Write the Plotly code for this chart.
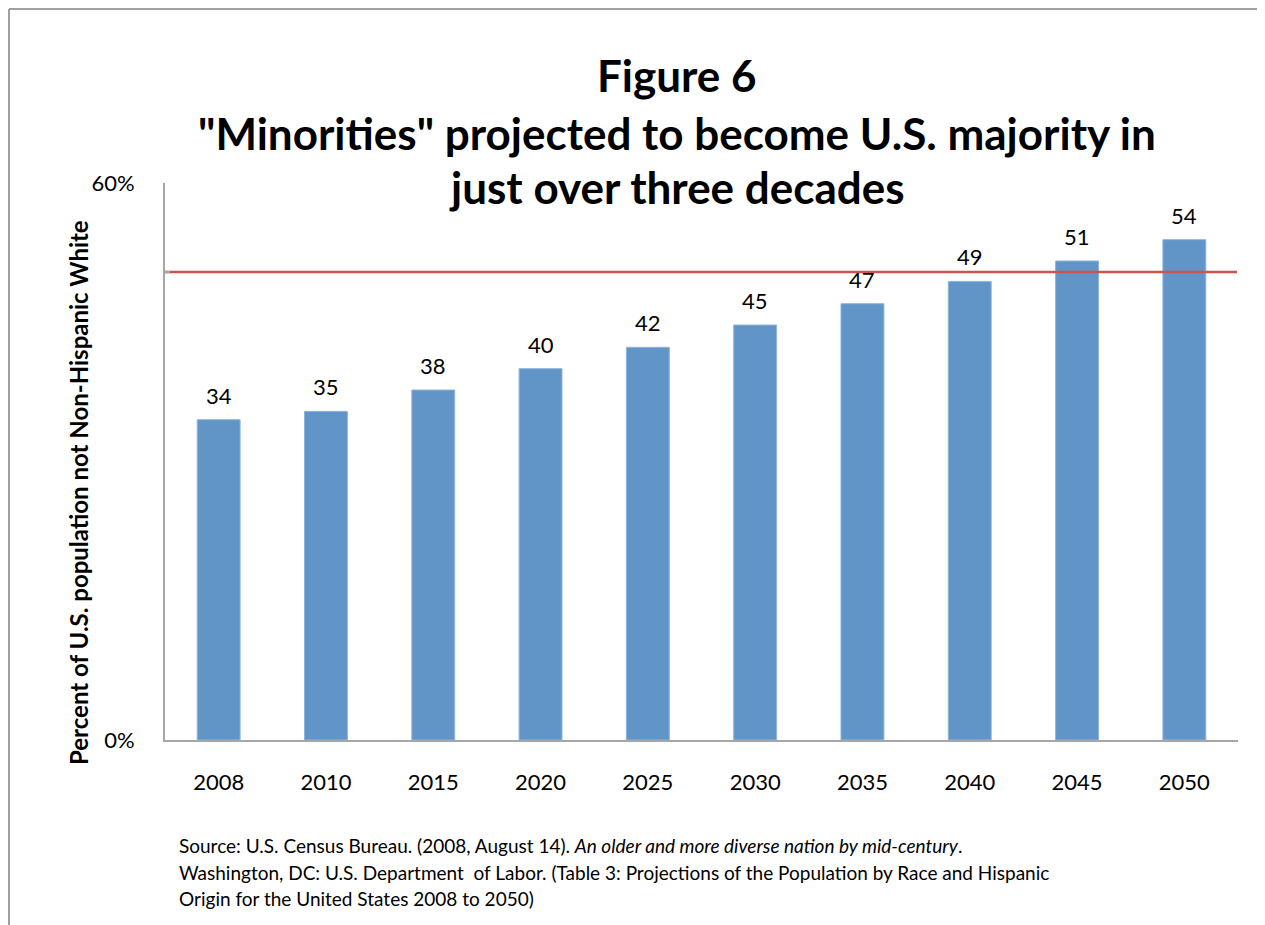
import plotly.graph_objects as go

years = ["2008", "2010", "2015", "2020", "2025", "2030", "2035", "2040", "2045", "2050"]
values = [34.5, 35.4, 37.7, 40.0, 42.3, 44.7, 47.0, 49.4, 51.6, 53.9]
labels = ["34", "35", "38", "40", "42", "45", "47", "49", "51", "54"]
majority_line = 50.4
y_ticks = [0, 60]
y_tick_text = ["0%", "60%"]

title_lines = ["Figure 6", "\"Minorities\" projected to become U.S. majority in", "just over three decades"]
y_title = "Percent of U.S. population not Non-Hispanic White"
source_lines = [
    "Source: U.S. Census Bureau. (2008, August 14). <i>An older and more diverse nation by mid-century</i>.",
    "Washington, DC: U.S. Department&nbsp; of Labor. (Table 3: Projections of the Population by Race and Hispanic",
    "Origin for the United States 2008 to 2050)",
]

OFF = 8  # page body margin
W, H = 1265 - OFF, 925 - OFF
L = 165 - OFF
T = 183 - OFF
R = W - (1238 - OFF)
B = H - (740 - OFF)
pw, ph = W - L - R, H - T - B

def px(x):
    return (x - OFF - L) / pw

def py(y):
    return (H - B - (y - OFF)) / ph

FONT = "Lato, Carlito, Calibri, sans-serif"

fig = go.Figure()
fig.add_trace(go.Bar(
    x=years, y=values,
    marker=dict(color="#6195c8", line=dict(color="#8fb4dc", width=1)),
    width=0.4,
    hoverinfo="skip",
))

annotations = []
for i, (v, lb) in enumerate(zip(values, labels)):
    annotations.append(dict(x=i, xref="x", y=v, yref="y", text=lb, showarrow=False, yanchor="bottom",
                            yshift=9, font=dict(size=22, color="black", family=FONT)))

title_y = [75, 133, 187]
for t, yy in zip(title_lines, title_y):
    annotations.append(dict(xref="paper", yref="paper", x=px(677), y=py(yy), text="<b>" + t + "</b>",
                            showarrow=False, xanchor="center", yanchor="middle",
                            font=dict(size=44, color="black", family=FONT)))

annotations.append(dict(xref="paper", yref="paper", x=px(78), y=py(493), text="<b>" + y_title + "</b>",
                        textangle=-90, showarrow=False, xanchor="center", yanchor="middle",
                        font=dict(size=24, color="black", family=FONT)))

source_y = [845, 872, 898]
for t, yy in zip(source_lines, source_y):
    annotations.append(dict(xref="paper", yref="paper", x=px(177), y=py(yy), text=t,
                            showarrow=False, xanchor="left", yanchor="middle", align="left",
                            font=dict(size=19, color="black", family=FONT)))

shapes = [
    dict(type="line", xref="paper", yref="y", x0=0, x1=px(1237), y0=majority_line, y1=majority_line,
         line=dict(color="#cc5350", width=2.5), layer="above"),
    dict(type="line", xref="paper", yref="y", x0=0, x1=px(170), y0=majority_line, y1=majority_line,
         line=dict(color="#a6a6a6", width=2.5), layer="above"),
    dict(type="line", xref="paper", yref="paper", x0=px(9), x1=px(1262), y0=py(9), y1=py(9),
         line=dict(color="#a0a0a0", width=2), layer="below"),
    dict(type="line", xref="paper", yref="paper", x0=px(9), x1=px(9), y0=py(9), y1=py(960),
         line=dict(color="#a0a0a0", width=2), layer="below"),
    dict(type="line", xref="paper", yref="paper", x0=px(1262), x1=px(1262), y0=py(9), y1=py(960),
         line=dict(color="#a0a0a0", width=2), layer="below"),
]

fig.update_layout(
    width=W, height=H,
    margin=dict(l=L, r=R, t=T, b=B, autoexpand=False),
    paper_bgcolor="white", plot_bgcolor="white",
    showlegend=False,
    annotations=annotations,
    shapes=shapes,
    font=dict(family=FONT, color="black"),
    xaxis=dict(type="category", showline=True, linecolor="#a6a6a6", linewidth=2,
               showgrid=False, zeroline=False, ticks="",
               tickfont=dict(size=22, family=FONT, color="black"), ticklabelstandoff=22),
    yaxis=dict(range=[0, 60], tickvals=y_ticks, ticktext=y_tick_text, showline=True,
               linecolor="#a6a6a6", linewidth=2, showgrid=False, zeroline=False, ticks="",
               tickfont=dict(size=22, family=FONT, color="black"), ticklabelstandoff=24),
)

fig.write_html("out.html")
